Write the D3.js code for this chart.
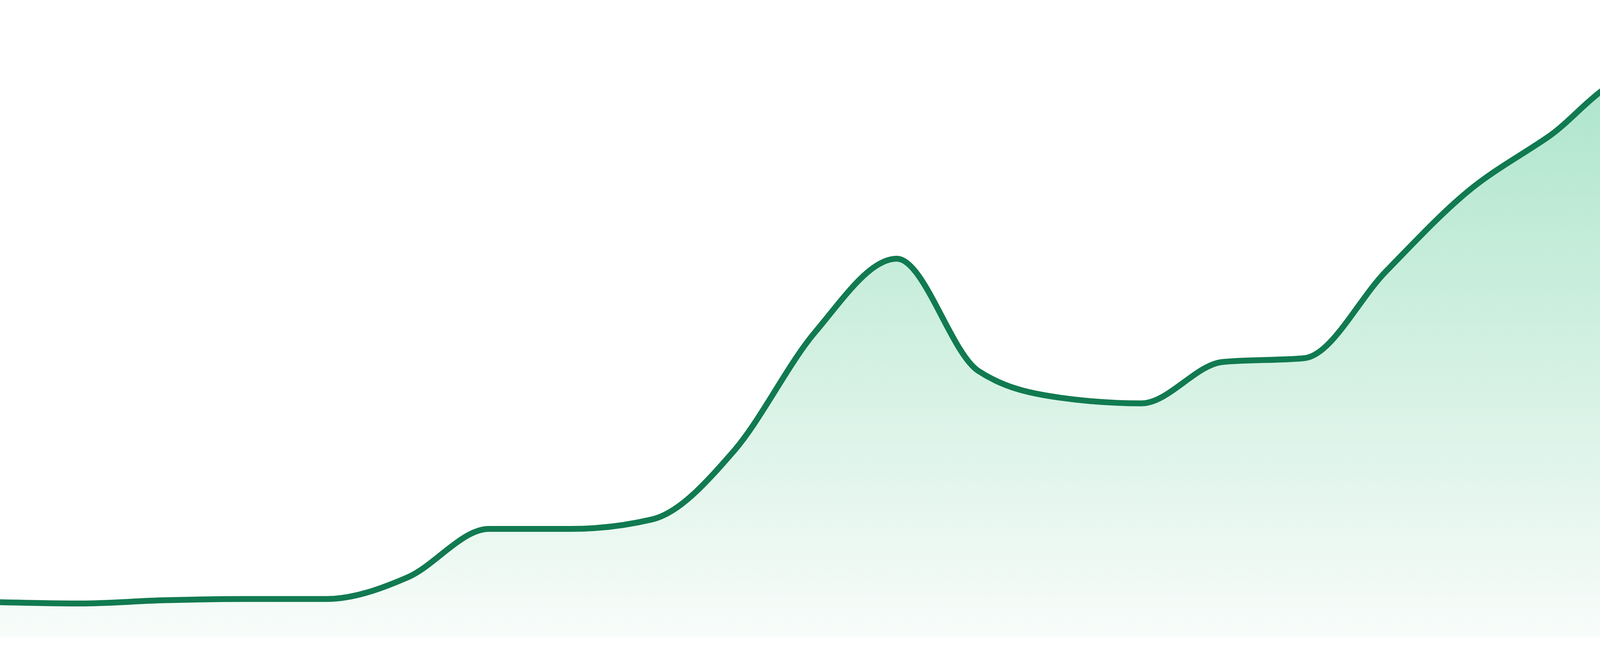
<!DOCTYPE html>
<html>
<head>
<meta charset="utf-8">
<title>Trend</title>
<script src="https://cdn.jsdelivr.net/npm/d3@7"></script>
<style>
  html, body { margin: 0; padding: 0; background: #ffffff; }
  svg { display: block; }
</style>
</head>
<body>
<div id="chart"></div>
<script>
// one series, 24 evenly spaced samples
var periods = d3.range(24);
var values = [5.5, 5.3, 5.8, 6.0, 6.0, 9.4, 17.0, 17.0, 18.5, 29.2, 47.9, 59.4,
              41.8, 37.6, 36.7, 43.2, 43.8, 57.4, 69.9, 78.6, 87.6, 83.6, 78.1, 84.2];

var width = 4800, height = 1680;
var margin = {top: 0, right: 0, bottom: 48, left: 0};

var svg = d3.select("#chart").append("svg")
    .attr("width", width)
    .attr("height", height);

var x = d3.scaleLinear()
    .domain(d3.extent(periods))
    .range([margin.left, width - margin.right]);

var y = d3.scaleLinear()
    .domain([0, 100])
    .range([height - margin.bottom, margin.top]);

var data = periods.map(function(p, i) { return {p: p, v: values[i]}; });

// soft green fade under the line
var grad = svg.append("defs").append("linearGradient")
    .attr("id", "fade")
    .attr("gradientUnits", "userSpaceOnUse")
    .attr("x1", 0).attr("x2", 0)
    .attr("y1", y(d3.max(values)))
    .attr("y2", y(0));
grad.append("stop").attr("offset", "0%").attr("stop-color", "#aee5cc");
grad.append("stop").attr("offset", "100%").attr("stop-color", "#f8fcfa");

var area = d3.area()
    .x(function(d) { return x(d.p); })
    .y0(y(0))
    .y1(function(d) { return y(d.v); })
    .curve(d3.curveMonotoneX);

var line = d3.line()
    .x(function(d) { return x(d.p); })
    .y(function(d) { return y(d.v); })
    .curve(d3.curveMonotoneX);

svg.append("path")
    .datum(data)
    .attr("d", area)
    .attr("fill", "url(#fade)");

svg.append("path")
    .datum(data)
    .attr("d", line)
    .attr("fill", "none")
    .attr("stroke", "#117a50")
    .attr("stroke-width", 15)
    .attr("stroke-linejoin", "round");
</script>
</body>
</html>
